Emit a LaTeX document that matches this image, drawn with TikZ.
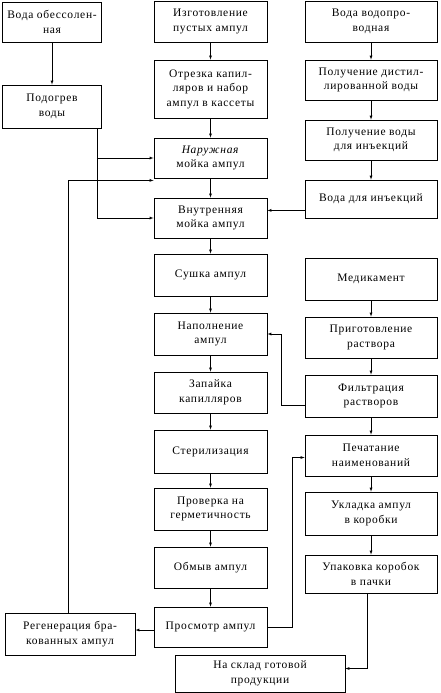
\documentclass[tikz,border=0pt]{standalone}
\usepackage{fontspec}
\setmainfont{Liberation Serif}[LetterSpace=6]
\usepackage{tikz}
\usetikzlibrary{calc, arrows.meta, positioning}

\begin{document}
\begin{tikzpicture}[auto, >=latex, x=1pt, y=-1pt]
		\tikzstyle{box} = [draw=black, thick, rectangle, align=center, inner sep=1pt, font=\fontsize{11.5}{14.5}\selectfont]
		\tikzstyle{boxl} = [box, minimum width=99pt]
		\tikzstyle{boxm} = [box, minimum width=113pt]
		\tikzstyle{boxr} = [box, minimum width=132pt]
		
		\useasboundingbox (0,0) rectangle (441,693);
		
		% left column
		\node[boxl, minimum height=40pt] 	at (52, 22) 		(vobes) 	{Вода обессолен-\\ная};
		\node[boxl, minimum height=43pt] 	at (52, 106.5)		(podogr) 	{Подогрев\\воды};
		\node[box, minimum width=130pt, minimum height=42pt] 	at (70, 634)	(regen) 	{Регенерация бра-\\кованных ампул};
		
		% middle column
		\node[boxm, minimum height=41pt] 	at (210.5, 21.5)	(izgot) 	{Изготовление\\пустых ампул};
		\node[boxm, minimum height=58pt] 	at (210.5, 89)		(otrez) 	{Отрезка капил-\\ляров и набор\\ампул в кассеты};
		\node[boxm, minimum height=40pt] 	at (210.5, 158)		(naruzh) 	{\textit{Наружная}\\мойка ампул};
		\node[boxm, minimum height=40pt] 	at (210.5, 218)		(vnutr) 	{Внутренняя\\мойка ампул};
		\node[boxm, minimum height=42pt] 	at (210.5, 275)		(sushka) 	{Сушка ампул};
		\node[boxm, minimum height=42pt] 	at (210.5, 334)		(napoln) 	{Наполнение\\ампул};
		\node[boxm, minimum height=41pt] 	at (210.5, 392.5)	(zapaika) 	{Запайка\\капилляров};
		\node[boxm, minimum height=43pt] 	at (210.5, 451.5)	(steril) 	{Стерилизация};
		\node[boxm, minimum height=42pt] 	at (210.5, 509)		(proverka) 	{Проверка на\\герметичность};
		\node[boxm, minimum height=41pt] 	at (210.5, 567.5)	(obmyv) 	{Обмыв ампул};
		\node[boxm, minimum height=40pt] 	at (210.5, 627)		(prosmotr) 	{Просмотр ампул};
		\node[box, minimum width=170pt, minimum height=37pt] 	at (260, 673.5)	(sklad) 	{На склад готовой\\продукции};
		
		% right column
		\node[boxr, minimum height=41pt] 	at (371, 21.5)		(vodopr) 	{Вода водопро-\\водная};
		\node[boxr, minimum height=40pt] 	at (371, 80)		(distil) 	{Получение дистил-\\лированной воды};
		\node[boxr, minimum height=40pt] 	at (371, 140)		(vinj) 		{Получение воды\\для инъекций};
		\node[boxr, minimum height=38pt] 	at (371, 199)		(vodainj) 	{Вода для инъекций};
		\node[boxr, minimum height=42pt] 	at (371, 279)		(medik) 	{Медикамент};
		\node[boxr, minimum height=41pt] 	at (371, 337.5)		(prigot) 	{Приготовление\\раствора};
		\node[boxr, minimum height=42pt] 	at (371, 396)		(filtr) 	{Фильтрация\\растворов};
		\node[boxr, minimum height=41pt] 	at (371, 455.5)		(pechat) 	{Печатание\\наименований};
		\node[boxr, minimum height=43pt] 	at (371, 513.5)		(uklad) 	{Укладка ампул\\в коробки};
		\node[boxr, minimum height=38pt] 	at (371, 574)		(upak) 		{Упаковка коробок\\в пачки};
		
		\path[->]
		(vobes)		edge	(podogr)
		(izgot)		edge	(otrez)
		(otrez)		edge	(naruzh)
		(naruzh)	edge	(vnutr)
		(vnutr)		edge	(sushka)
		(sushka)	edge	(napoln)
		(napoln)	edge	(zapaika)
		(zapaika)	edge	(steril)
		(steril)	edge	(proverka)
		(proverka)	edge	(obmyv)
		(obmyv)		edge	(prosmotr)
		(vodopr)	edge	(distil)
		(distil)	edge	(vinj)
		(vinj)		edge	(vodainj)
		(medik)		edge	(prigot)
		(prigot)	edge	(filtr)
		(filtr)		edge	(pechat)
		(pechat)	edge	(uklad)
		(uklad)		edge	(upak);
		
		% side feeds
		\draw[->] ([xshift=-5pt]podogr.south east) |- (vnutr.west);
		\draw[->] ([xshift=-5pt]podogr.south east |- naruzh.west) -- (naruzh.west);
		\draw[->] ([xshift=-2pt]regen.north) |- ([yshift=-2pt]naruzh.south west);
		\draw[->] ([yshift=8pt]vodainj.south west) -- ([yshift=8pt]vodainj.south west -| vnutr.east);
		\draw[->] ([yshift=-9pt]filtr.west) -- ++(-23pt,0pt) |- (napoln.east);
		\draw[->] (prosmotr.east) -- ++(25pt,0pt) |- ([yshift=-2pt]pechat.west);
		\draw[->] ([yshift=-3pt]prosmotr.west) -- ([yshift=-3pt]prosmotr.west -| regen.east);
		\draw[->] ([xshift=-4pt]upak.south) |- ([yshift=5pt]sklad.east);
		\end{tikzpicture}
\end{document}
